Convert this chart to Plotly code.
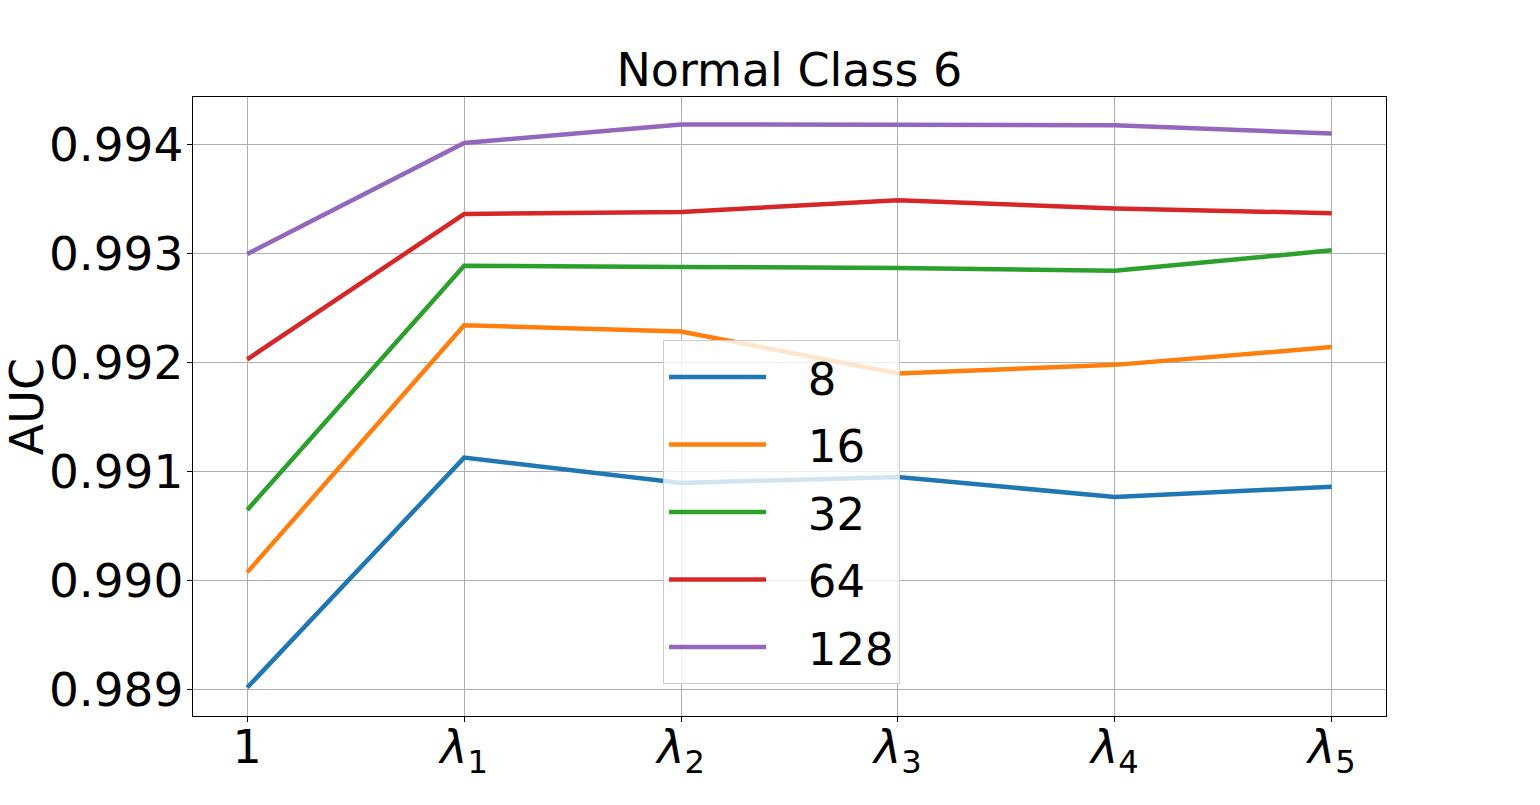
import plotly.graph_objects as go

######## DATA ##########
labels = ["1", "<i>λ</i><sub>1</sub>", "<i>λ</i><sub>2</sub>", "<i>λ</i><sub>3</sub>",
          "<i>λ</i><sub>4</sub>", "<i>λ</i><sub>5</sub>"]

auc_8 = [0.989021, 0.991131, 0.990899, 0.990954, 0.990769, 0.990864]
auc_16 = [0.990078, 0.992345, 0.992288, 0.991903, 0.991982, 0.992145]
auc_32 = [0.990650, 0.992892, 0.992881, 0.992871, 0.992845, 0.993033]
auc_64 = [0.992033, 0.993366, 0.993385, 0.993493, 0.993417, 0.993374]
auc_128 = [0.993000, 0.994018, 0.994188, 0.994188, 0.994181, 0.994105]

series_names = ["8", "16", "32", "64", "128"]
series_values = [auc_8, auc_16, auc_32, auc_64, auc_128]
colors = ["#1f77b4", "#ff7f0e", "#2ca02c", "#d62728", "#9467bd"]

FONT = "DejaVu Sans"

######## PLOT ##########
fig = go.Figure()
for name, vals, col in zip(series_names, series_values, colors):
    fig.add_trace(go.Scatter(
        x=labels, y=vals, name="\u2002\u00a0" + name,  # pad: gap after legend line
        mode="lines", line=dict(color=col, width=4.5),
        legendgroup=name, hovertemplate=name + ": %{y:.4f}<extra></extra>",
    ))

fig.update_layout(
    width=1540, height=805,
    margin=dict(l=193, r=154, t=97, b=89),
    paper_bgcolor="white", plot_bgcolor="white",
    font=dict(family=FONT, size=46, color="black"),
    title=dict(text="Normal Class 6", x=0.5126, xanchor="center",
               y=0.913, yanchor="middle", font=dict(size=46)),
    showlegend=True,
    legend=dict(
        x=0.394, y=0.607, xanchor="left", yanchor="top",
        bgcolor="rgba(255,255,255,0.8)", bordercolor="#cccccc", borderwidth=1,
        font=dict(size=45), tracegroupgap=6, itemwidth=97,
    ),
)

# matplotlib-like boxed axes
fig.update_xaxes(
    type="category", range=[-0.25, 5.25], automargin=False,
    showline=True, mirror=True, linecolor="black", linewidth=1.3,
    ticks="outside", ticklen=5, tickcolor="black",
    showgrid=True, gridcolor="#b0b0b0", gridwidth=1,
    tickfont=dict(size=46), ticklabelstandoff=-14,
)
fig.update_yaxes(
    range=[0.98876, 0.99444], dtick=0.001, tickformat=".3f", automargin=False,
    showline=True, mirror=True, linecolor="black", linewidth=1.3,
    ticks="outside", ticklen=5, tickcolor="black",
    showgrid=True, gridcolor="#b0b0b0", gridwidth=1, zeroline=False,
    tickfont=dict(size=47), ticklabelstandoff=-6,
    title=dict(text="AUC", font=dict(size=46), standoff=20),
)

# drop the browser's default page margin so the figure sits at 0,0
fig.write_html("out.html", config={"displayModeBar": False},
               post_script="document.body.style.margin='0';")
